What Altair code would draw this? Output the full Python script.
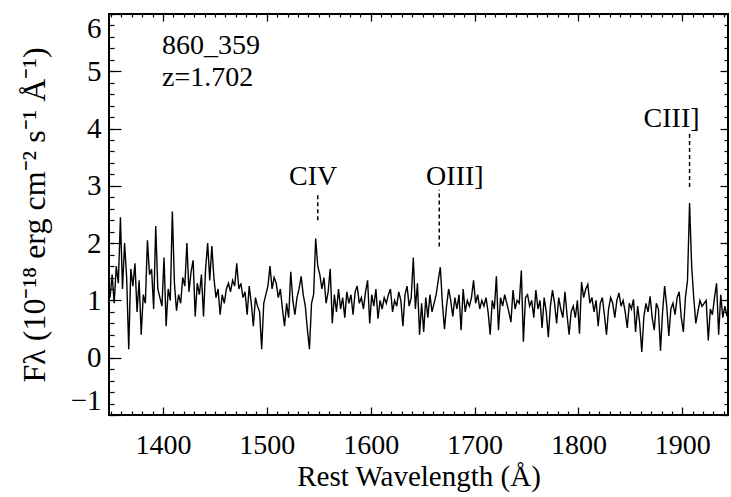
import altair as alt
import pandas as pd

FONT = "Liberation Serif"

# ---------------- data ----------------
wave_start = 1349
wave_step = 2

flux_1349_1399 = [1.05, 1.45, 0.95, 1.60, 1.30, 2.45, 1.20, 2.00, 1.40, 0.15,
                  1.55, 1.25, 1.65, 0.80, 1.35, 0.40, 1.10, 0.95, 2.05, 1.45,
                  1.55, 0.85, 2.30, 1.20, 1.05, 0.90]
flux_1401_1469 = [1.75, 0.55, 1.20, 1.00, 2.55, 1.30, 0.82, 1.10, 0.95, 1.40,
                  1.25, 2.00, 1.15, 1.50, 1.70, 0.72, 1.30, 1.10, 1.45, 0.72,
                  1.55, 2.00, 1.35, 1.95, 1.40, 1.05, 1.20, 0.75, 1.10, 0.95,
                  1.20, 1.30, 1.15, 1.35, 1.25]
flux_1471_1589 = [1.65, 1.20, 1.30, 1.05, 1.15, 0.75, 1.25, 0.95, 0.55, 1.05,
                  0.90, 0.80, 0.15, 0.95, 1.10, 1.25, 1.60, 1.20, 1.40, 1.30,
                  1.05, 1.20, 0.85, 0.55, 0.95, 0.70, 1.50, 1.00, 0.75, 1.05,
                  1.20, 1.42, 1.10, 0.90, 0.50, 0.15, 0.95, 1.10, 2.08, 1.60,
                  1.45, 1.20, 1.40, 0.95, 1.15, 1.55, 0.60, 1.10, 0.80, 1.20,
                  0.85, 1.05, 0.70, 1.15, 0.95, 1.10, 0.75, 1.15, 1.25, 0.95]
flux_1591_1709 = [1.05, 0.85, 1.15, 1.35, 0.60, 1.10, 0.90, 1.20, 0.68, 1.00,
                  0.85, 1.05, 0.95, 1.10, 1.20, 0.80, 1.00, 0.90, 1.15, 1.00,
                  0.55, 1.10, 1.25, 0.90, 1.05, 1.75, 0.85, 1.30, 0.40, 0.95,
                  0.45, 1.05, 0.70, 1.10, 0.80, 0.95, 1.10, 1.35, 1.58, 0.95,
                  0.50, 0.90, 1.20, 1.00, 0.72, 1.05, 0.85, 1.10, 0.48, 1.20,
                  0.80, 1.00, 0.90, 1.05, 1.35, 0.95, 1.10, 0.85, 1.00, 0.90]
flux_1711_1829 = [1.05, 0.80, 0.40, 1.00, 0.85, 1.42, 0.48, 1.05, 0.90, 1.10,
                  0.95, 0.80, 0.62, 1.18, 0.85, 1.00, 0.95, 1.52, 0.28, 1.05,
                  1.10, 0.90, 1.00, 0.70, 1.18, 0.85, 1.00, 0.52, 1.05, 0.80,
                  0.36, 0.90, 1.18, 0.95, 0.60, 1.05, 0.85, 0.70, 1.15, 0.75,
                  0.40, 0.80, 0.90, 0.70, 1.00, 0.42, 1.32, 1.05, 1.20, 1.28,
                  0.95, 1.05, 0.80, 1.00, 0.55, 0.95, 1.05, 0.75, 0.40, 0.85]
flux_1831_1943 = [1.05, 0.95, 0.70, 1.00, 1.13, 0.90, 1.00, 0.80, 0.52, 0.95,
                  0.85, 1.02, 0.45, 0.90, 0.60, 0.10, 0.72, 0.95, 0.80, 1.07,
                  0.70, 0.48, 0.95, 0.85, 0.12, 0.80, 1.25, 0.90, 0.38, 0.85,
                  0.95, 0.75, 1.05, 1.15, 0.70, 0.45, 1.05, 1.35, 2.70, 1.60,
                  1.05, 0.60, 0.80, 1.00, 0.90, 0.95, 1.00, 0.30, 0.85, 0.75,
                  1.05, 1.30, 0.40, 1.10, 0.70, 0.90, 0.72]

flux = (flux_1349_1399 + flux_1401_1469 + flux_1471_1589 +
        flux_1591_1709 + flux_1711_1829 + flux_1831_1943)
wavelength = [wave_start + wave_step * i for i in range(len(flux))]

line_names = ["CIV", "OIII]", "CIII]"]
line_wave = [1549, 1666, 1907]
dash_low = [2.40, 1.94, 2.98]
dash_high = [2.84, 2.93, 3.94]
label_x = [1544.5, 1681, 1889.7]
label_y = [3.01, 3.01, 4.03]

info_text = ["860_359", "z=1.702"]
info_x = [1399, 1399]
info_y = [5.30, 4.74]

x_domain = [1348, 1944]
y_domain = [-1, 6]
x_major = [1400, 1500, 1600, 1700, 1800, 1900]
x_minor = list(range(1350, 1941, 10))
y_major = [-1, 0, 1, 2, 3, 4, 5, 6]
y_minor = [round(-1 + 0.2 * i, 1) for i in range(36)]

spec_df = pd.DataFrame({"wavelength": wavelength, "flux": flux})
lines_df = pd.DataFrame({"wave": line_wave, "low": dash_low, "high": dash_high})
labels_df = pd.DataFrame({"name": line_names, "lx": label_x, "ly": label_y})
info_df = pd.DataFrame({"text": info_text, "ix": info_x, "iy": info_y})

x_scale = alt.Scale(domain=x_domain, nice=False, zero=False)
y_scale = alt.Scale(domain=y_domain, nice=False, zero=False)


def tick_axis(orient, values, size, **kw):
    return alt.Axis(orient=orient, values=values, offset=-size, tickSize=size,
                    domain=False, grid=False, labels=False, title=None,
                    tickColor="black", tickWidth=1.2, **kw)


x_bottom_major = alt.Axis(
    orient="bottom", values=x_major, offset=-8, tickSize=8, domain=False,
    grid=False, format="d", labelFont=FONT, labelFontSize=28,
    labelColor="black", labelPadding=16, labelFlush=False,
    tickColor="black", tickWidth=1.2,
    title="Rest Wavelength (Å)", titleFont=FONT, titleFontSize=29,
    titleFontWeight="normal", titleColor="black", titleX=309.5, titleY=78,
    titleBaseline="alphabetic", titleAlign="center")

y_left_major = alt.Axis(
    orient="left", values=y_major, offset=-12, tickSize=12, domain=False,
    grid=False, format="d", labelFont=FONT, labelFontSize=29,
    labelColor="black", labelPadding=8, labelFlush=True,
    tickColor="black", tickWidth=1.2,
    title="Fλ (10⁻¹⁸ erg cm⁻² s⁻¹ Å⁻¹)", titleFont=FONT, titleFontSize=32,
    titleFontWeight="normal", titleColor="black", titleAngle=270,
    titleX=-77, titleY=200.5, titleBaseline="alphabetic", titleAlign="center")

spectrum = alt.Chart(spec_df).mark_line(
    color="black", strokeWidth=1.4, interpolate="linear", clip=True
).encode(
    x=alt.X("wavelength:Q", scale=x_scale, axis=x_bottom_major),
    y=alt.Y("flux:Q", scale=y_scale, axis=y_left_major),
)

dashes = alt.Chart(lines_df).mark_rule(
    color="black", strokeWidth=1.5, strokeDash=[4, 3]
).encode(
    x=alt.X("wave:Q", scale=x_scale, axis=tick_axis("bottom", x_minor, 4)),
    y=alt.Y("low:Q", scale=y_scale, axis=tick_axis("left", y_minor, 5)),
    y2="high:Q",
)

line_labels = alt.Chart(labels_df).mark_text(
    font=FONT, fontSize=28, color="black", align="center", baseline="alphabetic"
).encode(
    x=alt.X("lx:Q", scale=x_scale, axis=tick_axis("top", x_major, 7)),
    y=alt.Y("ly:Q", scale=y_scale, axis=tick_axis("right", y_major, 8)),
    text="name:N",
)

info = alt.Chart(info_df).mark_text(
    font=FONT, fontSize=28, color="black", align="left", baseline="alphabetic"
).encode(
    x=alt.X("ix:Q", scale=x_scale, axis=tick_axis("top", x_minor, 3)),
    y=alt.Y("iy:Q", scale=y_scale, axis=tick_axis("right", y_minor, 4)),
    text="text:N",
)

chart = alt.layer(spectrum, dashes, line_labels, info).resolve_axis(
    x="independent", y="independent"
).properties(
    width=619, height=401,
    autosize=alt.AutoSizeParams(type="none"),
    padding={"left": 109, "top": 14, "right": 3, "bottom": 82},
    background="white",
).configure_view(stroke="black", strokeWidth=2)

chart.save("out.html", embed_options={"renderer": "svg", "actions": False})
